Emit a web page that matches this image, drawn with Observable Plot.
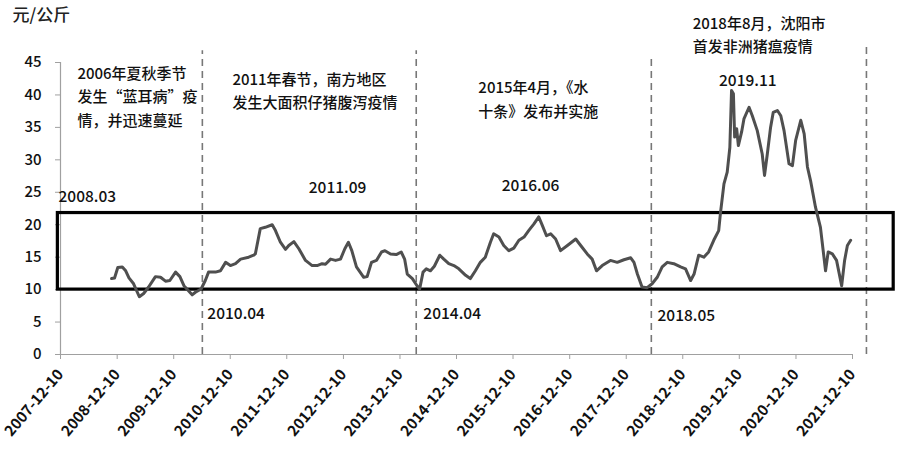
<!DOCTYPE html>
<html><head><meta charset="utf-8">
<script src="https://cdn.jsdelivr.net/npm/d3@7"></script>
<script src="https://cdn.jsdelivr.net/npm/@observablehq/plot@0.6"></script>
<style>
body{margin:0;background:#fff;}
#chart svg{display:block;}
</style>
</head><body><div id="chart"></div>
<script>
// ---- data ----
const dates = [
"2008-11-04","2008-11-23","2008-12-14","2009-01-12","2009-02-03","2009-02-24","2009-03-26","2009-05-02","2009-05-30","2009-07-01",
"2009-08-14","2009-09-16","2009-10-18","2009-11-15","2009-12-22","2010-01-19","2010-02-14","2010-04-08","2010-04-29","2010-06-05",
"2010-07-02","2010-07-23","2010-09-06","2010-10-08","2010-11-10","2010-12-11","2011-01-13","2011-02-15","2011-04-08","2011-05-10",
"2011-05-21","2011-06-22","2011-07-24","2011-09-07","2011-09-28","2011-10-30","2011-12-02","2011-12-23","2012-01-25","2012-02-26",
"2012-04-09","2012-05-22","2012-06-23","2012-07-25","2012-08-16","2012-09-18","2012-10-20","2012-11-21","2012-12-19","2013-01-11",
"2013-02-02","2013-03-04","2013-04-20","2013-05-12","2013-06-09","2013-07-11","2013-08-13","2013-09-04","2013-10-10","2013-11-16",
"2013-12-18","2014-01-09","2014-01-26","2014-02-28","2014-03-30","2014-04-16","2014-05-08","2014-05-29","2014-06-25","2014-07-20",
"2014-08-24","2014-09-19","2014-10-21","2014-11-23","2014-12-25","2015-02-07","2015-03-09","2015-04-11","2015-05-13","2015-06-14",
"2015-07-17","2015-08-07","2015-09-10","2015-10-11","2015-11-13","2015-12-15","2016-01-17","2016-02-19","2016-03-20","2016-04-22",
"2016-05-24","2016-06-16","2016-07-13","2016-08-09","2016-09-10","2016-10-12","2016-11-25","2017-01-18","2017-02-19","2017-04-02",
"2017-05-04","2017-06-01","2017-07-08","2017-08-30","2017-10-13","2017-11-25","2018-01-08","2018-01-29","2018-02-20","2018-03-22",
"2018-04-24","2018-05-26","2018-06-28","2018-07-30","2018-09-01","2018-10-13","2018-11-26","2018-12-28","2019-01-30","2019-02-21",
"2019-03-23","2019-04-25","2019-05-26","2019-06-28","2019-07-30","2019-08-10","2019-09-02","2019-09-23","2019-10-10","2019-10-21",
"2019-11-02","2019-11-10","2019-11-23","2019-12-04","2019-12-25","2020-01-09","2020-02-11","2020-03-03","2020-04-04","2020-05-06",
"2020-05-21","2020-06-08","2020-06-29","2020-07-16","2020-08-12","2020-09-03","2020-09-24","2020-10-26","2020-11-17","2020-12-08",
"2021-01-10","2021-02-01","2021-02-22","2021-03-14","2021-04-15","2021-05-17","2021-06-19","2021-07-06","2021-08-02","2021-08-29",
"2021-10-01","2021-10-20","2021-11-07","2021-11-28"
];
const prices = [
11.7,11.8,13.4,13.5,12.9,11.8,10.9,8.9,9.4,10.4,
12.0,11.9,11.3,11.4,12.7,12.0,10.6,9.2,9.6,10.1,
11.4,12.7,12.7,12.9,14.2,13.7,14.0,14.7,15.0,15.3,
15.5,19.4,19.6,20.0,19.1,17.3,16.2,16.8,17.4,16.3,
14.5,13.7,13.7,14.0,13.9,14.7,14.5,14.7,16.3,17.3,
16.0,13.5,11.9,12.0,14.2,14.5,15.8,16.0,15.5,15.4,
15.8,14.7,12.4,11.7,10.6,10.1,12.7,13.2,12.9,13.6,
15.3,14.7,14.0,13.7,13.2,12.2,11.7,12.9,14.2,15.0,
17.3,18.6,18.1,16.8,16.0,16.4,17.6,18.1,19.1,20.1,
21.2,19.9,18.3,18.6,17.8,16.0,16.8,17.8,16.8,15.5,
14.7,12.9,13.7,14.5,14.2,14.6,14.9,14.2,12.4,10.4,
10.3,10.9,11.9,13.5,14.2,14.0,13.5,13.2,11.4,12.4,
15.3,15.0,15.8,17.6,19.1,21.7,26.3,28.1,31.9,40.7,
40.2,33.5,34.8,32.2,34.3,36.3,38.1,36.8,34.5,30.9,
27.6,30.9,35.0,37.3,37.6,36.8,34.5,29.4,29.1,33.0,
36.1,34.0,28.9,26.8,22.7,19.6,12.9,15.8,15.5,14.5,
10.6,14.5,16.8,17.6
];
const xDomain = ["2007-12-10","2021-12-10"];
const xTickDates = ["2007-12-10","2008-12-10","2009-12-10","2010-12-10","2011-12-10","2012-12-10","2013-12-10",
  "2014-12-10","2015-12-10","2016-12-10","2017-12-10","2018-12-10","2019-12-10","2020-12-10","2021-12-10"];
const yTicks = [0,5,10,15,20,25,30,35,40,45];
const unitLabel = "元/公斤";

// event divider lines
const eventDates = ["2010-06-13","2014-03-25","2018-05-21","2022-03-10"];
const eventTops = [46.8,46.8,45.6,47.8];

// highlighted band
const bandDates = ["2007-11-23","2022-09-02"];
const bandValues = [10,21.8];

// point labels
const pointLabels = ["2008.03","2011.09","2016.06","2019.11","2010.04","2014.04","2018.05"];
const pointLabelDates = ["2007-11-27","2012-11-02","2016-04-01","2020-02-03","2010-07-15","2014-05-10","2018-06-30"];
const pointLabelValues = [24.3,25.6,26.0,42.1,6.3,6.3,6.0];
const pointLabelAnchors = ["start","middle","middle","middle","start","start","start"];

// event notes
const notes = [
  "2006年夏秋季节\n发生“蓝耳病”疫\n情，并迅速蔓延",
  "2011年春节，南方地区\n发生大面积仔猪腹泻疫情",
  "2015年4月，《水\n十条》发布并实施",
  "2018年8月，沈阳市\n首发非洲猪瘟疫情"
];
const noteDates = ["2008-03-28","2010-12-24","2015-04-30","2019-02-12"];
const noteValues = [45.0,44.1,42.8,52.7];

// ---- build ----
const parse = s => new Date(s + "T00:00:00Z");
const series = dates.map((d,i) => ({date: parse(d), price: prices[i]}));
const events = eventDates.map((d,i) => ({date: parse(d), top: eventTops[i]}));
const band = [{x1: parse(bandDates[0]), x2: parse(bandDates[1]), y1: bandValues[0], y2: bandValues[1]}];
const plabels = pointLabels.map((t,i) => ({text: t, date: parse(pointLabelDates[i]), v: pointLabelValues[i], anchor: pointLabelAnchors[i]}));
const noteRows = notes.map((t,i) => ({text: t, date: parse(noteDates[i]), v: noteValues[i]}));

const FONT = "'Noto Sans CJK SC','Noto Sans',sans-serif";

const chart = Plot.plot({
  width: 900, height: 455,
  marginLeft: 60, marginRight: 48, marginTop: 62, marginBottom: 101,
  style: {fontFamily: FONT, color: "#111", background: "#fff", overflow: "visible"},
  x: {type: "utc", domain: xDomain.map(parse)},
  y: {domain: [0,45]},
  marks: [
    Plot.ruleY([0], {stroke: "#a0a0a0", strokeWidth: 1.2}),
    Plot.ruleX([parse(xDomain[0])], {y1: 0, y2: 45, stroke: "#a0a0a0", strokeWidth: 1.2}),
    Plot.axisY({ticks: yTicks, tickSize: 5, tickPadding: 14, fontSize: 15, fontWeight: 500, stroke: "#a0a0a0", label: null}),
    Plot.axisX({ticks: xTickDates.map(parse), tickFormat: d3.utcFormat("%Y-%m-%d"), tickRotate: -50,
      tickSize: 5, tickPadding: 12, fontSize: 15, fontWeight: "bold", stroke: "#a0a0a0", label: null}),
    Plot.ruleX(events, {x: "date", y1: 0, y2: "top", stroke: "#777", strokeWidth: 1.6, strokeDasharray: "7,5"}),
    Plot.rect(band, {x1: "x1", x2: "x2", y1: "y1", y2: "y2", fill: "none", stroke: "#000", strokeWidth: 3.2}),
    Plot.line(series, {x: "date", y: "price", stroke: "#4f4f4f", strokeWidth: 3, curve: "linear"}),
    Plot.text(plabels.filter(d => d.anchor === "middle"), {x: "date", y: "v", text: "text", textAnchor: "middle", fontSize: 15.5, fontWeight: 500, fill: "#111"}),
    Plot.text(plabels.filter(d => d.anchor === "start"), {x: "date", y: "v", text: "text", textAnchor: "start", fontSize: 15.5, fontWeight: 500, fill: "#111"}),
    Plot.text(noteRows, {x: "date", y: "v", text: "text", textAnchor: "start", lineAnchor: "top", lineHeight: 1.55, fontSize: 15, fontWeight: 500, fill: "#111"}),
    Plot.text([unitLabel], {frameAnchor: "top-left", text: d => d, dx: -48, dy: -47, textAnchor: "start", lineAnchor: "middle", fontSize: 17, fontWeight: 500, fill: "#222"})
  ]
});
document.getElementById("chart").appendChild(chart);
</script>
</body></html>
